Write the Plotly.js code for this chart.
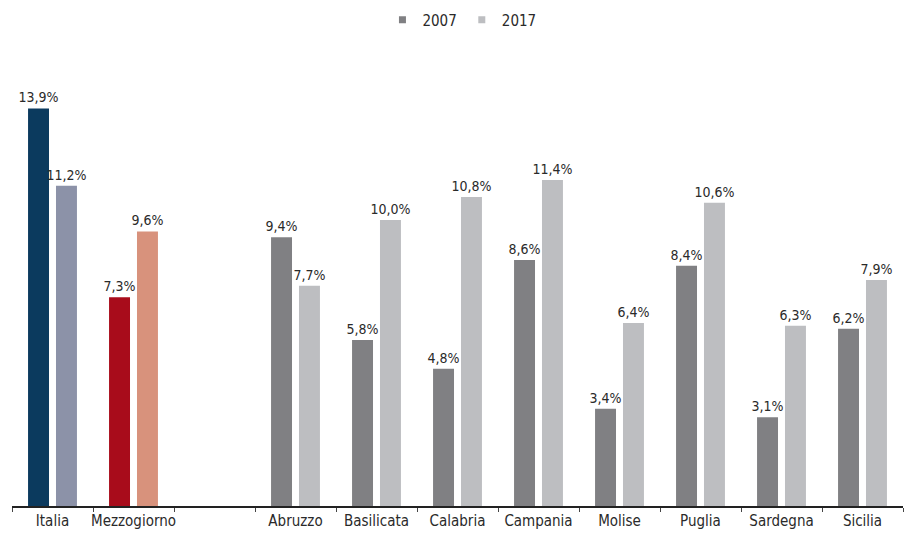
<!DOCTYPE html>
<html>
<head>
<meta charset="utf-8">
<script src="https://cdn.plot.ly/plotly-3.0.1.min.js"></script>
<style>html,body{margin:0;padding:0;background:#fff;}#chart{width:912px;height:536px;}</style>
</head>
<body>
<div id="chart"></div>
<script>
const categories = ["Italia", "Mezzogiorno", " ", "Abruzzo", "Basilicata", "Calabria", "Campania", "Molise", "Puglia", "Sardegna", "Sicilia"];
const values2007 = [13.9, 7.3, null, 9.4, 5.8, 4.8, 8.6, 3.4, 8.4, 3.1, 6.2];
const values2017 = [11.2, 9.6, null, 7.7, 10.0, 10.8, 11.4, 6.4, 10.6, 6.3, 7.9];
const seriesNames = ["2007", "2017"];

const colors2007 = ["#0b3a5e", "#a80c1b", "#808083", "#808083", "#808083", "#808083", "#808083", "#808083", "#808083", "#808083", "#808083"];
const colors2017 = ["#8c92a8", "#d8927c", "#bdbec1", "#bdbec1", "#bdbec1", "#bdbec1", "#bdbec1", "#bdbec1", "#bdbec1", "#bdbec1", "#bdbec1"];
const legendColors = ["#808083", "#bdbec1"];

const FONT = '"DejaVu Sans Condensed", "Liberation Sans Narrow", sans-serif';

const barCommon = {
  type: 'bar',
  x: categories,
  texttemplate: '%{y:.1f}%',
  textposition: 'outside',
  cliponaxis: false,
  constraintext: 'none',
  textfont: {family: FONT, size: 14, color: '#2a2a2a'},
  showlegend: false,
  hoverinfo: 'skip'
};

const data = [
  Object.assign({}, barCommon, {y: values2007, name: seriesNames[0], marker: {color: colors2007}, offsetgroup: 'a'}),
  Object.assign({}, barCommon, {y: values2017, name: seriesNames[1], marker: {color: colors2017}, offsetgroup: 'b'}),
  {type: 'scatter', mode: 'markers', x: [null], y: [null], name: seriesNames[0], marker: {symbol: 'square', size: 7, color: legendColors[0]}, showlegend: true},
  {type: 'scatter', mode: 'markers', x: [null], y: [null], name: seriesNames[1], marker: {symbol: 'square', size: 7, color: legendColors[1]}, showlegend: true}
];

const layout = {
  width: 912, height: 536,
  margin: {l: 12, r: 9, t: 77, b: 30, autoexpand: false},
  paper_bgcolor: '#ffffff', plot_bgcolor: '#ffffff',
  separators: ',.',
  barmode: 'group',
  bargap: 0.31,
  bargroupgap: 0.25,
  font: {family: FONT, size: 15, color: '#2a2a2a'},
  showlegend: true,
  legend: {orientation: 'h', x: 0.505, xanchor: 'center', y: 1.133, yanchor: 'middle', font: {family: FONT, size: 15, color: '#2a2a2a'}, itemwidth: 30, tracegroupgap: 0},
  xaxis: {
    type: 'category',
    automargin: false,
    tickangle: 0,
    showline: true, linecolor: '#222222', linewidth: 2,
    ticks: 'outside', tickson: 'boundaries', ticklen: 4, tickcolor: '#444444', tickwidth: 1,
    showgrid: false, zeroline: false,
    tickfont: {family: FONT, size: 15, color: '#2a2a2a'},
    fixedrange: true
  },
  yaxis: {
    range: [0, 15],
    visible: false,
    automargin: false,
    showgrid: false, zeroline: false,
    fixedrange: true
  }
};

Plotly.newPlot('chart', data, layout, {displayModeBar: false, staticPlot: true});
</script>
</body>
</html>
